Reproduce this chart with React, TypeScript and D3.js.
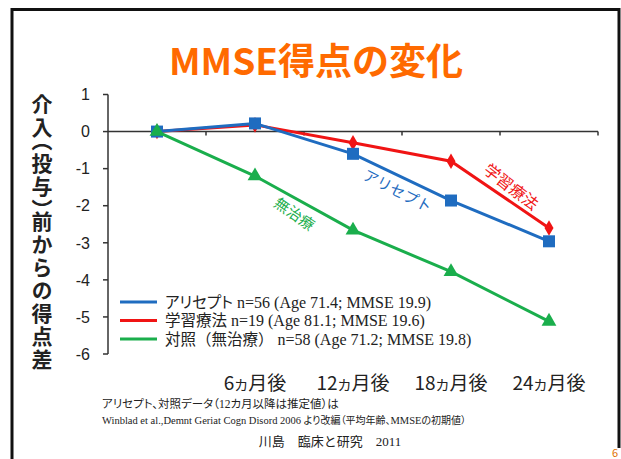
import React from "react";
import * as d3 from "d3";

// chart data
const categories = ["0", "6", "12", "18", "24"];
const xTickLabels = ["", "6", "12", "18", "24"];
const yTicks = [1, 0, -1, -2, -3, -4, -5, -6];

const ariceptValues = [0, 0.22, -0.6, -1.86, -2.96];
const trainingValues = [0, 0.18, -0.3, -0.8, -2.6];
const controlValues = [0, -1.2, -2.66, -3.78, -5.12];

const legendNames = ["アリセプト", "学習療法", "対照（無治療）"];
const legendNotes = [
  " n=56 (Age 71.4; MMSE 19.9)",
  " n=19 (Age 81.1; MMSE  19.6)",
  " n=58 (Age 71.2; MMSE 19.8)",
];

const BLUE = "#1f6cc0";
const RED = "#f01414";
const GREEN = "#1aae4c";

const W = 621;
const H = 459;

const jp = "'Noto Sans CJK JP', sans-serif";
const serif = "'Liberation Serif', serif";
const palt = { fontFeatureSettings: '"palt"' } as any;
const vhal = { fontFeatureSettings: '"vhal"' } as any;

export default function App() {
  const x = d3.scaleBand<string>().domain(categories).range([108, 598]);
  const y = d3.scaleLinear().domain([-6, 1]).range([354, 94.5]);
  const cx = (c: string) => (x(c) as number) + x.bandwidth() / 2;

  const line = d3
    .line<number>()
    .x((_, i) => cx(categories[i]))
    .y((d) => y(d));

  const series = [
    { values: trainingValues, color: RED, symbol: d3.symbolDiamond, size: 70 },
    { values: ariceptValues, color: BLUE, symbol: d3.symbolSquare, size: 144 },
    { values: controlValues, color: GREEN, symbol: d3.symbolTriangle, size: 95 },
  ];
  const legendColors = [BLUE, RED, GREEN];

  return (
    <div style={{ position: "absolute", left: 0, top: 0 }}>
      <svg width={W} height={H} style={{ display: "block", background: "#fff" }}>
        {/* slide frame */}
        <path d="M12,459 L12,9.5 L619,9.5 L619,448" fill="none" stroke="#111" strokeWidth={3} />

        {/* title */}
        <text x={316} y={75} textAnchor="middle" fontFamily={jp} fontWeight="bold" fontSize={37} fill="#ff6a00">
          MMSE得点の変化
        </text>

        {/* y axis title */}
        <text
          x={42}
          y={94}
          fontFamily={jp}
          fontWeight="bold"
          fontSize={21}
          fill="#222"
          style={{ writingMode: "vertical-rl", letterSpacing: "2px" } as any}
        >
          介入<tspan style={vhal}>（</tspan>投与<tspan style={vhal}>）</tspan>前からの得点差
        </text>

        {/* y axis */}
        <line x1={108} x2={108} y1={y(1)} y2={y(-6)} stroke="#333" strokeWidth={1.5} />
        {yTicks.map((t) => (
          <g key={t}>
            <line x1={103} x2={108} y1={y(t)} y2={y(t)} stroke="#333" strokeWidth={1.5} />
            <text x={90} y={y(t)} dy="0.36em" textAnchor="end" fontFamily="'Liberation Sans', Arial" fontSize={16} fill="#222">
              {t}
            </text>
          </g>
        ))}

        {/* x axis at zero */}
        <line x1={108} x2={598} y1={y(0)} y2={y(0)} stroke="#333" strokeWidth={1.5} />
        {categories.map((c) => (
          <line key={c} x1={(x(c) as number) + x.bandwidth()} x2={(x(c) as number) + x.bandwidth()} y1={y(0)} y2={y(0) + 4} stroke="#333" strokeWidth={1.5} />
        ))}
        {categories.map((c, i) =>
          xTickLabels[i] ? (
            <text key={c} x={cx(c)} y={390} textAnchor="middle" fontFamily={jp} fontSize={19} fill="#222">
              {xTickLabels[i]}
              <tspan fontSize={14}>カ</tspan>月後
            </text>
          ) : null
        )}

        {/* series */}
        {series.map((s, k) => (
          <g key={k}>
            <path d={line(s.values) as string} fill="none" stroke={s.color} strokeWidth={3} />
            {s.values.map((v, i) => (
              <path
                key={i}
                transform={`translate(${cx(categories[i])},${y(v)})`}
                d={d3.symbol().type(s.symbol).size(s.size)() as string}
                fill={s.color}
              />
            ))}
          </g>
        ))}

        {/* in-chart labels */}
        <text transform="translate(398,190) rotate(27)" textAnchor="middle" dominantBaseline="central" fontFamily={jp} fontSize={15} fill={BLUE}>
          アリセプト
        </text>
        <text transform="translate(512,186) rotate(38)" textAnchor="middle" dominantBaseline="central" fontFamily={jp} fontSize={16} fill={RED}>
          学習療法
        </text>
        <text transform="translate(295,213) rotate(35)" textAnchor="middle" dominantBaseline="central" fontFamily={jp} fontSize={15} fill={GREEN}>
          無治療
        </text>

        {/* legend */}
        {legendNames.map((n, i) => (
          <g key={n} transform={`translate(0,${302 + i * 18.5})`}>
            <line x1={120} x2={157} y1={0} y2={0} stroke={legendColors[i]} strokeWidth={3} />
            <text x={165} y={5.5} fontSize={15.5} fill="#222">
              <tspan fontFamily={jp} style={i === 0 ? palt : undefined}>
                {n}
              </tspan>
              <tspan fontFamily={serif} fontSize={16}>{legendNotes[i]}</tspan>
            </text>
          </g>
        ))}

        {/* footnotes */}
        <text x={102} y={408} fontSize={11.5} fill="#222" fontFamily={jp} style={palt}>
          アリセプト、対照データ（<tspan fontFamily={serif}>12</tspan>カ月以降は推定値）は
        </text>
        <text x={102} y={424} fontSize={10} fill="#222">
          <tspan fontFamily={serif} fontSize={10.5}>Winblad et al.,Demnt Geriat Cogn Disord 2006  </tspan>
          <tspan fontFamily={jp} style={palt}>より改編（平均年齢、</tspan>
          <tspan fontFamily={serif} fontSize={10.5}>MMSE</tspan>
          <tspan fontFamily={jp} style={palt}>の初期値）</tspan>
        </text>
        <text x={330} y={446} textAnchor="middle" fontSize={13} fill="#222">
          <tspan fontFamily={jp}>川島　臨床と研究　</tspan>
          <tspan fontFamily={serif}>2011</tspan>
        </text>
        <text x={615} y={457} textAnchor="middle" fontFamily={jp} fontSize={11} fill="#e07000">
          6
        </text>
      </svg>
    </div>
  );
}
